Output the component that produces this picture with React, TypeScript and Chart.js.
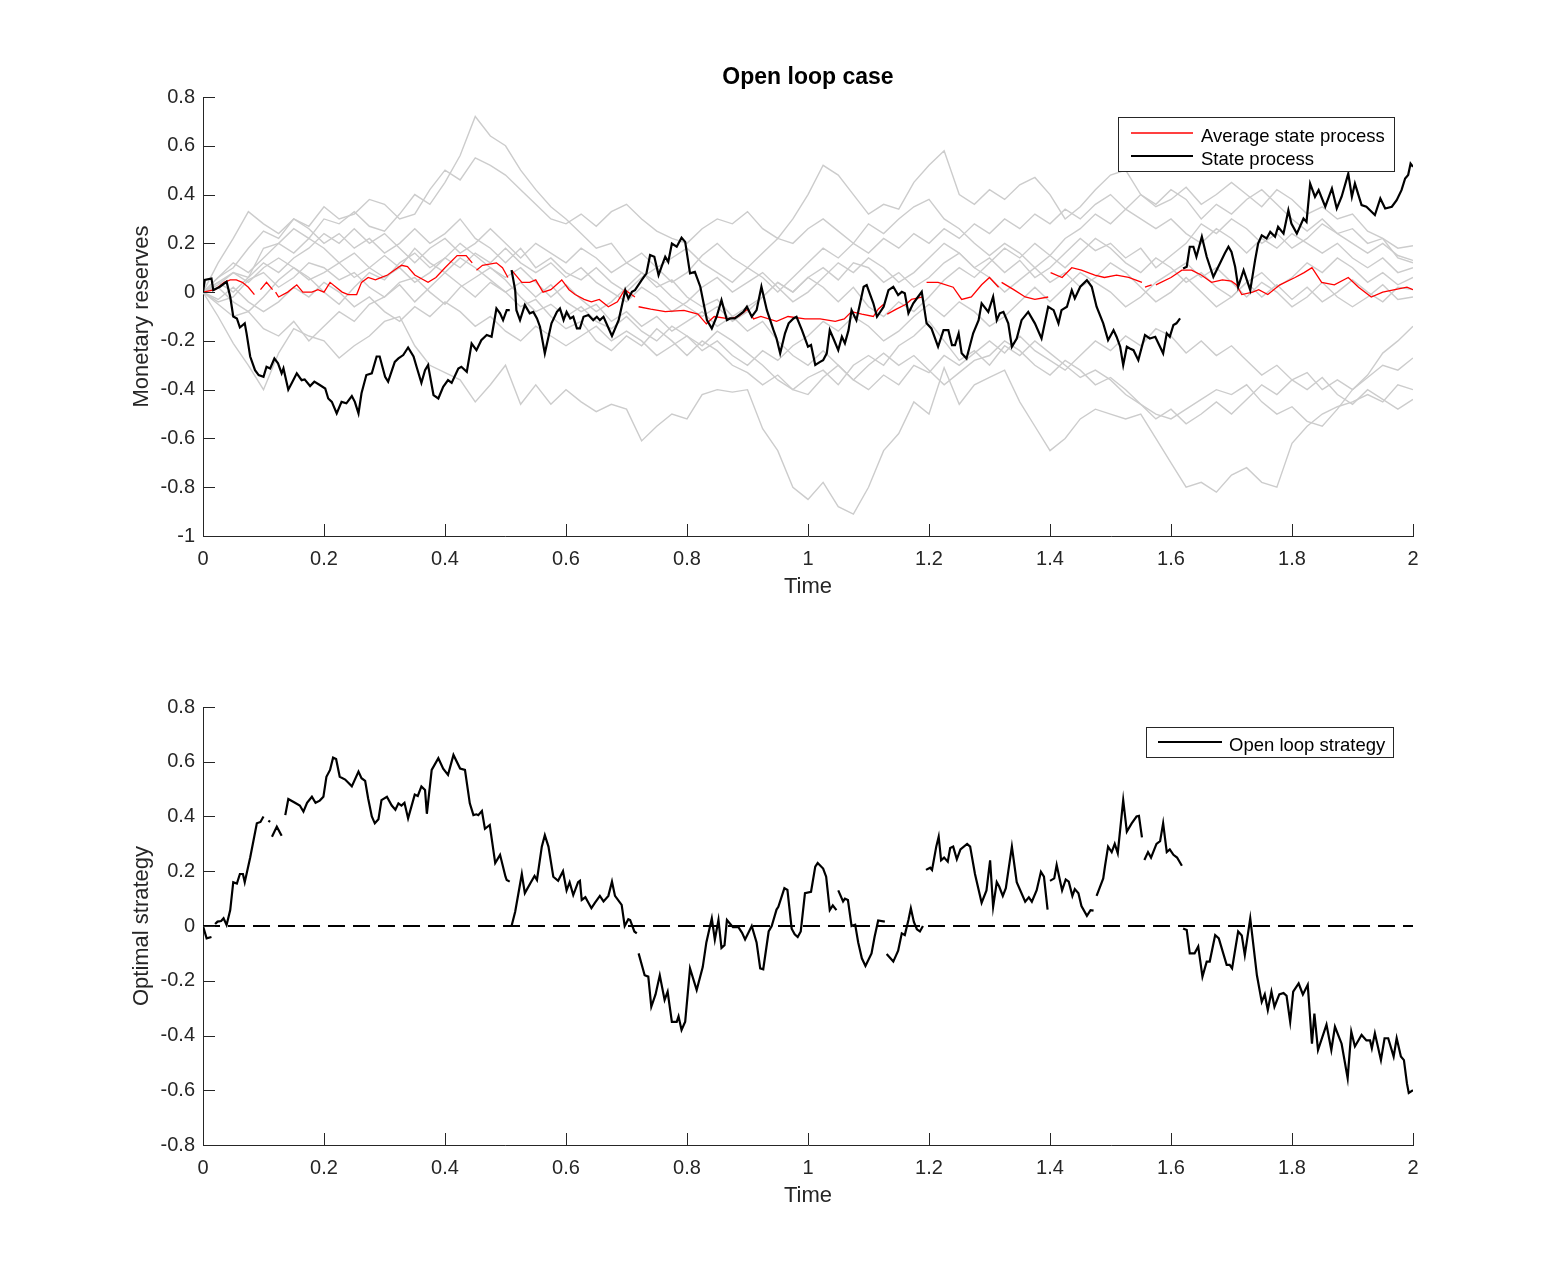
import React, { useEffect, useRef } from "react";
import { Chart, registerables } from "chart.js";

Chart.register(...registerables);

const FONT = '"Liberation Sans", Arial, Helvetica, sans-serif';
const INK = "#262626";

// Axis ticks
const X_TICKS = [0, 0.2, 0.4, 0.6, 0.8, 1, 1.2, 1.4, 1.6, 1.8, 2];
const RESERVE_TICKS = [-1, -0.8, -0.6, -0.4, -0.2, 0, 0.2, 0.4, 0.6, 0.8];
const STRATEGY_TICKS = [-0.8, -0.6, -0.4, -0.2, 0, 0.2, 0.4, 0.6, 0.8];

// Simulated reserve paths share one time grid (step 0.025)
const GRAY_TIMES = Array.from({ length: 81 }, (_, i) => (i * 25) / 1000);

const GRAY_1 = [0, .04, .08, .06, .18, .2, .26, .22, .3, .28, .33, .27, .25, .32, .4, .36, .45, .56, .72, .64, .6, .5, .42, .35, .3, .24, .18, .2, .12, .08, .02, .05, -.02, -.06, -.03, -.1, -.06, -.02, .04, 0, .06, .1, .05, .12, .1, .04, .08, .02, .06, .12, .16, .1, .14, .08, .13, .06, .1, .16, .22, .17, .2, .14, .18, .1, .15, .2, .28, .24, .3, .26, .2, .24, .18, .22, .28, .24, .26, .2, .22, .14, .12];
const GRAY_2 = [0, .06, .1, .18, .25, .22, .3, .27, .35, .3, .32, .38, .36, .3, .32, .42, .5, .46, .55, .52, .48, .42, .36, .3, .28, .32, .27, .33, .36, .3, .25, .22, .2, .26, .3, .28, .33, .26, .22, .3, .4, .52, .48, .4, .32, .36, .34, .45, .52, .58, .4, .36, .42, .38, .44, .47, .4, .3, .35, .42, .48, .5, .4, .35, .38, .43, .36, .4, .45, .4, .35, .42, .38, .32, .35, .3, .32, .25, .22, .18, .19];
const GRAY_3 = [0, -.1, -.21, -.3, -.4, -.25, -.15, -.18, -.2, -.27, -.22, -.18, -.12, -.1, -.22, -.3, -.33, -.36, -.45, -.38, -.3, -.46, -.38, -.46, -.4, -.45, -.49, -.46, -.48, -.61, -.55, -.5, -.52, -.42, -.4, -.41, -.4, -.56, -.65, -.8, -.85, -.78, -.88, -.91, -.8, -.65, -.58, -.45, -.5, -.31, -.46, -.38, -.35, -.32, -.45, -.55, -.65, -.6, -.52, -.48, -.5, -.52, -.5, -.6, -.7, -.8, -.78, -.82, -.75, -.72, -.78, -.8, -.62, -.55, -.5, -.47, -.45, -.42, -.45, -.38, -.4];
const GRAY_4 = [0, -.04, -.02, .05, .08, .02, .06, .12, .1, .05, .08, .02, -.02, .04, .06, 0, -.05, .02, .06, .1, .05, -.02, -.08, -.05, -.1, -.06, -.12, -.15, -.1, -.16, -.2, -.14, -.18, -.22, -.16, -.2, -.25, -.3, -.36, -.4, -.35, -.32, -.38, -.3, -.26, -.3, -.22, -.18, -.12, -.2, -.28, -.24, -.3, -.22, -.26, -.2, -.25, -.3, -.35, -.32, -.36, -.42, -.46, -.5, -.52, -.48, -.44, -.4, -.42, -.38, -.45, -.5, -.47, -.53, -.55, -.48, -.4, -.34, -.25, -.2, -.14];
const GRAY_5 = [0, -.05, -.1, -.08, -.15, -.18, -.12, -.2, -.14, -.08, -.12, -.05, -.02, .03, -.04, .02, .08, .03, -.02, .04, 0, -.06, -.03, -.1, -.15, -.12, -.2, -.24, -.18, -.22, -.15, -.2, -.26, -.2, -.24, -.3, -.33, -.38, -.34, -.4, -.42, -.35, -.3, -.36, -.4, -.34, -.38, -.3, -.33, -.26, -.3, -.25, -.2, -.25, -.18, -.24, -.28, -.32, -.26, -.2, -.24, -.18, -.22, -.15, -.18, -.25, -.2, -.26, -.22, -.28, -.34, -.3, -.36, -.33, -.4, -.36, -.4, -.35, -.3, -.32, -.27];
const GRAY_6 = [0, .03, .08, .04, .1, .14, .1, .05, .08, .12, .06, .1, .15, .1, .18, .12, .08, .14, .1, .05, 0, .04, -.02, .03, -.04, -.08, -.05, -.12, -.08, -.14, -.1, -.16, -.12, -.08, -.14, -.1, -.16, -.12, -.2, -.26, -.3, -.24, -.3, -.36, -.3, -.25, -.3, -.26, -.32, -.38, -.33, -.28, -.26, -.2, -.24, -.3, -.34, -.28, -.32, -.38, -.35, -.4, -.46, -.52, -.48, -.54, -.5, -.45, -.5, -.44, -.38, -.42, -.36, -.4, -.35, -.42, -.46, -.4, -.44, -.48, -.44];
const GRAY_7 = [0, .12, .22, .33, .28, .24, .3, .26, .2, .24, .18, .22, .16, .2, .26, .2, .24, .3, .22, .18, .12, .18, .1, .14, .08, .05, .1, .04, 0, .06, .1, .04, .08, .15, .2, .14, .1, .16, .22, .2, .26, .3, .25, .2, .28, .24, .3, .35, .38, .3, .26, .2, .15, .2, .16, .1, .15, .22, .26, .32, .28, .34, .4, .36, .42, .38, .3, .36, .32, .38, .42, .36, .3, .25, .3, .24, .2, .16, .2, .15, .13];
const GRAY_8 = [0, .02, -.04, -.08, -.02, .05, .1, .06, 0, -.05, .02, .08, .05, .12, .16, .1, .14, .2, .15, .1, .06, .1, .04, -.02, .03, -.03, -.08, -.04, .02, .08, .04, -.02, -.06, -.1, -.06, -.12, -.08, -.02, .04, 0, .06, .02, -.04, .02, -.06, -.1, -.04, -.08, -.02, .05, .1, .06, .12, .18, .14, .2, .15, .1, .16, .22, .18, .12, .08, .14, .1, .04, .08, .02, -.02, .04, .08, .02, .06, .12, .08, .14, .1, .04, .08, .03, .06];
const GRAY_9 = [0, .06, .12, .08, .14, .2, .16, .22, .18, .12, .16, .1, .06, .1, .04, .08, .14, .1, .16, .12, .18, .12, .08, .12, .06, .1, .04, 0, -.04, .02, -.02, -.08, -.04, .02, .06, 0, .04, .08, .02, -.04, 0, .06, .12, .08, .14, .1, .04, .08, .14, .2, .16, .1, .06, 0, .05, .1, .04, .08, .02, .06, .12, .08, .02, -.04, 0, .06, 0, -.06, -.02, .04, -.02, .03, -.03, .02, -.04, 0, .05, 0, -.04, .02, .01];
const GRAY_10 = [0, -.03, .02, -.04, -.08, -.04, .02, -.02, .04, 0, -.06, -.02, -.08, -.12, -.06, -.1, -.04, -.08, -.14, -.1, -.16, -.2, -.14, -.18, -.22, -.18, -.14, -.2, -.16, -.2, -.26, -.22, -.18, -.24, -.2, -.26, -.3, -.24, -.28, -.22, -.18, -.12, -.16, -.1, -.14, -.2, -.16, -.1, -.05, -.1, -.04, -.08, -.14, -.1, -.04, .02, -.04, .02, .08, .04, 0, -.06, -.02, .04, .08, .12, .06, .1, .04, -.02, .04, 0, -.06, -.02, .04, -.02, -.06, -.02, .03, -.03, -.02];
const GRAY_11 = [0, .04, 0, .06, .12, .08, .14, .18, .24, .2, .26, .2, .24, .18, .12, .18, .22, .16, .2, .26, .2, .14, .2, .16, .12, .18, .14, .08, .12, .16, .1, .14, .18, .12, .08, .04, .1, .06, 0, .06, .12, .18, .14, .2, .16, .22, .18, .24, .2, .26, .22, .28, .24, .3, .26, .32, .28, .34, .3, .36, .4, .34, .3, .26, .3, .24, .2, .26, .22, .16, .22, .18, .24, .2, .16, .2, .14, .1, .14, .08, .1];

const GRAY_PATHS = [GRAY_1, GRAY_2, GRAY_3, GRAY_4, GRAY_5, GRAY_6, GRAY_7, GRAY_8, GRAY_9, GRAY_10, GRAY_11];

// Average state process: [time, value]; null marks a break in the curve
const AVERAGE_STATE: [number, number | null][] = [
  [0, 0], [.02, .01], [.035, .04], [.045, .05], [.055, .05], [.065, .04], [.075, .02], [.085, -.01], [.09, null],
  [.095, .01], [.105, .04], [.115, .01], [.118, null], [.12, 0], [.125, -.02], [.14, 0], [.155, .03], [.165, 0],
  [.18, 0], [.19, .01], [.2, 0], [.21, .04], [.22, .02], [.23, 0], [.24, -.01], [.254, -.01], [.262, .04],
  [.273, .06], [.285, .05], [.295, .06], [.305, .07], [.316, .09], [.328, .11], [.338, .105], [.35, .07],
  [.372, .04], [.385, .06], [.4, .1], [.42, .15], [.435, .15], [.445, .12], [.448, null], [.452, .09],
  [.462, .11], [.485, .12], [.495, .1], [.504, .06], [.506, null], [.51, .09], [.527, .04], [.54, .04],
  [.55, .05], [.562, 0], [.575, .01], [.593, .05], [.605, .01], [.615, -.01], [.63, -.03], [.642, -.04],
  [.655, -.03], [.67, -.06], [.685, -.04], [.697, .01], [.714, -.02], [.717, null], [.72, -.06], [.74, -.07],
  [.764, -.08], [.795, -.075], [.818, -.09], [.832, -.13], [.845, -.1], [.87, -.11], [.885, -.1], [.9, -.07],
  [.91, -.11], [.922, -.1], [.948, -.12], [.967, -.1], [.995, -.11], [1.02, -.11], [1.045, -.12], [1.06, -.11],
  [1.072, -.08], [1.089, -.09], [1.108, -.1], [1.116, -.07], [1.125, -.05], [1.128, null], [1.131, -.09],
  [1.146, -.07], [1.162, -.05], [1.171, -.03], [1.19, -.02], [1.193, null], [1.196, .04], [1.215, .04],
  [1.24, .02], [1.254, -.03], [1.27, -.02], [1.287, .03], [1.3, .06], [1.315, .02], [1.318, null], [1.32, .04],
  [1.34, .01], [1.359, -.02], [1.375, -.03], [1.397, -.02], [1.399, null], [1.401, .08], [1.42, .06],
  [1.436, .1], [1.452, .09], [1.474, .07], [1.49, .06], [1.51, .07], [1.53, .06], [1.552, .04], [1.555, null],
  [1.557, .02], [1.568, .03], [1.572, null], [1.575, .03], [1.6, .06], [1.618, .09], [1.634, .09], [1.65, .07],
  [1.667, .04], [1.685, .05], [1.7, .045], [1.708, .03], [1.717, -.01], [1.735, 0], [1.745, .01], [1.76, -.01],
  [1.78, .03], [1.805, .06], [1.82, .08], [1.833, .1], [1.849, .04], [1.87, .03], [1.893, .06], [1.91, .02],
  [1.931, -.02], [1.95, 0], [1.97, .01], [1.99, .02], [2, .01],
];

// State process of the controlled player: [time, value]
const STATE_PROCESS: [number, number | null][] = [
  [0, 0], [.003, .05], [.014, .056], [.017, .008], [.028, .022], [.039, .043], [.045, -.019], [.05, -.1],
  [.056, -.108], [.061, -.145], [.069, -.128], [.072, -.169], [.078, -.264], [.086, -.32], [.092, -.34],
  [.1, -.347], [.105, -.306], [.111, -.313], [.118, -.272], [.124, -.292], [.13, -.333], [.133, -.313],
  [.141, -.4], [.147, -.372], [.155, -.333], [.163, -.361], [.168, -.358], [.177, -.385], [.184, -.367],
  [.193, -.381], [.202, -.395], [.207, -.436], [.213, -.45], [.221, -.497], [.229, -.45], [.237, -.456],
  [.246, -.426], [.251, -.45], [.257, -.497], [.262, -.415], [.27, -.34], [.279, -.333], [.287, -.264],
  [.292, -.264], [.301, -.347], [.306, -.367], [.317, -.286], [.323, -.272], [.331, -.258], [.339, -.227],
  [.348, -.264], [.353, -.306], [.361, -.372], [.367, -.32], [.372, -.299], [.381, -.422], [.389, -.436],
  [.397, -.388], [.405, -.361], [.411, -.372], [.422, -.313], [.427, -.306], [.436, -.327], [.444, -.211],
  [.452, -.238], [.46, -.197], [.469, -.176], [.477, -.183], [.485, -.067], [.491, -.087], [.496, -.115],
  [.502, -.074], [.507, -.074], [.509, null], [.51, .09], [.516, .008], [.518, -.074], [.524, -.115],
  [.532, -.053], [.54, -.087], [.546, -.081], [.552, -.108], [.557, -.142], [.565, -.251], [.576, -.128],
  [.585, -.081], [.59, -.067], [.596, -.115], [.601, -.081], [.607, -.108], [.612, -.101], [.618, -.149],
  [.623, -.149], [.629, -.101], [.637, -.094], [.645, -.115], [.651, -.101], [.656, -.115], [.662, -.101],
  [.676, -.18], [.687, -.115], [.692, -.06], [.698, .008], [.703, -.026], [.709, .001], [.714, .008],
  [.725, .049], [.733, .077], [.739, .152], [.746, .145], [.753, .07], [.758, .104], [.764, .145],
  [.769, .124], [.775, .199], [.783, .186], [.791, .223], [.797, .206], [.805, .077], [.813, .083],
  [.822, .022], [.833, -.115], [.841, -.149], [.849, -.101], [.857, -.033], [.866, -.115], [.871, -.108],
  [.879, -.108], [.893, -.081], [.899, -.06], [.907, -.101], [.915, -.074], [.923, .022], [.932, -.074],
  [.943, -.156], [.948, -.19], [.954, -.251], [.962, -.169], [.968, -.128], [.976, -.108], [.981, -.101],
  [.99, -.156], [1, -.224], [1.005, -.217], [1.012, -.299], [1.02, -.286], [1.025, -.279], [1.031, -.251],
  [1.036, -.156], [1.042, -.19], [1.05, -.238], [1.056, -.183], [1.061, -.21], [1.067, -.156], [1.072, -.074],
  [1.08, -.115], [1.092, .022], [1.097, .029], [1.108, -.046], [1.114, -.101], [1.125, -.06], [1.133, .008],
  [1.141, .022], [1.149, -.012], [1.155, .001], [1.16, -.005], [1.166, -.087], [1.174, -.046], [1.182, -.019],
  [1.188, .001], [1.196, -.128], [1.204, -.149], [1.215, -.224], [1.224, -.156], [1.232, -.156], [1.238, -.217],
  [1.243, -.217], [1.249, -.169], [1.254, -.251], [1.262, -.272], [1.273, -.169], [1.282, -.115], [1.287, -.046],
  [1.298, -.081], [1.306, -.019], [1.312, -.115], [1.317, -.087], [1.323, -.081], [1.331, -.128], [1.337, -.224],
  [1.345, -.19], [1.353, -.115], [1.364, -.081], [1.375, -.128], [1.386, -.19], [1.397, -.06], [1.406, -.074],
  [1.414, -.128], [1.419, -.074], [1.428, -.06], [1.436, .008], [1.441, -.026], [1.45, .022], [1.461, .049],
  [1.469, .022], [1.477, -.06], [1.488, -.128], [1.496, -.197], [1.505, -.156], [1.51, -.183], [1.516, -.224],
  [1.521, -.299], [1.527, -.224], [1.532, -.231], [1.538, -.238], [1.546, -.279], [1.557, -.176], [1.565, -.19],
  [1.574, -.183], [1.587, -.251], [1.593, -.169], [1.598, -.183], [1.604, -.135], [1.609, -.128], [1.615, -.108],
  [1.617, null], [1.62, .097], [1.626, .104], [1.631, .186], [1.637, .186], [1.642, .145], [1.651, .227],
  [1.659, .145], [1.67, .063], [1.681, .118], [1.689, .159], [1.695, .186], [1.7, .165], [1.706, .104],
  [1.711, .022], [1.72, .09], [1.731, .008], [1.739, .131], [1.744, .199], [1.75, .233], [1.758, .22],
  [1.764, .247], [1.772, .227], [1.777, .268], [1.786, .24], [1.794, .336], [1.799, .281], [1.808, .24],
  [1.819, .302], [1.824, .288], [1.83, .445], [1.838, .391], [1.844, .418], [1.855, .35], [1.866, .425],
  [1.874, .343], [1.882, .391], [1.893, .486], [1.899, .391], [1.904, .445], [1.915, .357], [1.923, .35],
  [1.929, .336], [1.937, .316], [1.946, .384], [1.954, .343], [1.965, .35], [1.973, .377], [1.981, .418],
  [1.987, .466], [1.992, .48], [1.996, .527], [2, .514],
];

// Open loop strategy: [time, value]; null marks a break in the curve
const OPEN_LOOP_STRATEGY: [number, number | null][] = [
  [0, 0], [.006, -.045], [.014, -.04], [.017, null], [.02, .007], [.024, .016], [.03, .018], [.034, .028],
  [.039, .004], [.045, .058], [.05, .16], [.056, .155], [.061, .19], [.066, .19], [.069, .16], [.078, .25],
  [.089, .375], [.095, .38], [.1, .4], [.105, null], [.108, .385], [.111, .38], [.1125, null], [.114, .326],
  [.122, .363], [.13, .33], [.133, null], [.136, .405], [.141, .464], [.152, .45], [.16, .44], [.166, .418],
  [.172, .45], [.18, .472], [.186, .45], [.193, .458], [.199, .472], [.204, .545], [.21, .57], [.215, .615],
  [.22, .61], [.226, .545], [.235, .535], [.246, .51], [.257, .564], [.262, .54], [.268, .53], [.273, .466],
  [.279, .4], [.284, .375], [.29, .39], [.295, .46], [.304, .472], [.312, .44], [.318, .425], [.323, .448],
  [.328, .44], [.333, .45], [.339, .393], [.35, .48], [.355, .475], [.361, .51], [.367, .497], [.37, .41],
  [.378, .57], [.389, .613], [.397, .575], [.405, .552], [.414, .625], [.425, .575], [.433, .57], [.441, .448],
  [.447, .405], [.452, .408], [.455, .405], [.461, .42], [.466, .355], [.474, .369], [.483, .23], [.491, .26],
  [.5, .18], [.502, .168], [.507, .162], [.509, null], [.51, 0], [.516, .052], [.527, .19], [.532, .12],
  [.542, .16], [.548, .183], [.552, .168], [.56, .29], [.565, .332], [.571, .29], [.579, .18], [.587, .165],
  [.595, .2], [.601, .13], [.606, .16], [.612, .113], [.62, .16], [.623, .165], [.626, .095], [.632, .105],
  [.642, .065], [.648, .085], [.656, .11], [.662, .09], [.67, .11], [.676, .162], [.681, .11], [.692, .077],
  [.697, 0], [.703, .025], [.706, .022], [.713, -.02], [.717, -.027], [.7185, null], [.72, -.1], [.73, -.18],
  [.736, -.185], [.741, -.295], [.748, -.25], [.755, -.18], [.763, -.27], [.768, -.24], [.775, -.35],
  [.783, -.35], [.786, -.33], [.791, -.38], [.797, -.35], [.805, -.155], [.816, -.234], [.826, -.15],
  [.832, -.06], [.841, .028], [.846, -.05], [.852, .022], [.857, -.08], [.862, -.07], [.866, .022],
  [.876, -.004], [.885, -.004], [.891, -.025], [.896, -.049], [.907, 0], [.915, -.06], [.921, -.155],
  [.926, -.158], [.935, -.02], [.94, 0], [.948, .06], [.951, .07], [.961, .138], [.966, .132], [.973, -.01],
  [.978, -.03], [.983, -.04], [.988, -.02], [.995, .12], [1.005, .125], [1.012, .217], [1.016, .23],
  [1.025, .21], [1.03, .18], [1.036, .058], [1.041, .075], [1.047, .058], [1.0485, null], [1.05, .13],
  [1.058, .09], [1.061, .1], [1.066, .095], [1.072, 0], [1.078, .005], [1.083, -.06], [1.089, -.118],
  [1.095, -.146], [1.105, -.1], [1.11, -.04], [1.116, .02], [1.127, .016], [1.1285, null], [1.13, -.102],
  [1.141, -.13], [1.149, -.09], [1.155, -.027], [1.16, -.033], [1.166, .022], [1.17, .065], [1.175, .015],
  [1.18, -.012], [1.185, -.02], [1.19, 0], [1.1925, null], [1.195, .205], [1.202, .213], [1.205, .205],
  [1.212, .29], [1.216, .326], [1.22, .24], [1.225, .25], [1.231, .235], [1.235, .285], [1.24, .29],
  [1.246, .244], [1.252, .28], [1.263, .3], [1.268, .29], [1.276, .19], [1.287, .085], [1.295, .13],
  [1.301, .24], [1.306, .07], [1.312, .16], [1.316, .144], [1.322, .11], [1.327, .138], [1.337, .29],
  [1.345, .16], [1.359, .089], [1.365, .105], [1.37, .089], [1.378, .131], [1.385, .198], [1.39, .18],
  [1.396, .06], [1.3985, null], [1.4, .165], [1.407, .174], [1.411, .223], [1.42, .13], [1.426, .17],
  [1.431, .162], [1.437, .11], [1.441, .135], [1.447, .12], [1.452, .073], [1.461, .037], [1.467, .058],
  [1.472, .056], [1.4745, null], [1.477, .11], [1.483, .145], [1.488, .174], [1.491, .22], [1.496, .29],
  [1.502, .27], [1.507, .3], [1.512, .266], [1.521, .46], [1.527, .345], [1.535, .375], [1.543, .4],
  [1.547, .402], [1.552, .324], [1.554, null], [1.556, .241], [1.562, .27], [1.567, .25], [1.576, .3],
  [1.582, .31], [1.587, .375], [1.593, .27], [1.598, .28], [1.604, .26], [1.61, .25], [1.618, .22],
  [1.619, null], [1.62, -.009], [1.626, -.015], [1.631, -.1], [1.639, -.1], [1.645, -.075], [1.652, -.185],
  [1.659, -.13], [1.664, -.13], [1.673, -.033], [1.679, -.045], [1.692, -.142], [1.697, -.142], [1.701, -.155],
  [1.711, -.02], [1.717, -.035], [1.722, -.106], [1.731, .028], [1.742, -.18], [1.75, -.277], [1.755, -.25],
  [1.76, -.307], [1.766, -.24], [1.771, -.295], [1.779, -.25], [1.786, -.245], [1.791, -.255], [1.797, -.35],
  [1.802, -.24], [1.811, -.21], [1.818, -.25], [1.826, -.215], [1.833, -.43], [1.837, -.32], [1.843, -.453],
  [1.857, -.36], [1.865, -.453], [1.871, -.368], [1.882, -.43], [1.892, -.556], [1.898, -.386], [1.904, -.44],
  [1.915, -.398], [1.923, -.418], [1.929, -.418], [1.932, -.447], [1.937, -.392], [1.947, -.49], [1.953, -.41],
  [1.959, -.41], [1.968, -.477], [1.973, -.41], [1.98, -.477], [1.985, -.49], [1.99, -.575], [1.993, -.61],
  [2, -.6],
];

const ZERO_LINE: [number, number][] = [[0, 0], [2, 0]];

const pairsToPoints = (pairs: [number, number | null][]) => pairs.map(([x, y]) => ({ x, y }));
const gridToPoints = (values: number[]) => values.map((y, i) => ({ x: GRAY_TIMES[i], y }));

type LegendItem = { label: string; color: string; width: number };
type DecorConfig = {
  title?: string;
  titleY?: number;
  xLabel: string;
  xLabelY: number;
  yLabel: string;
  box: [number, number, number, number];
  lineX: [number, number];
  textX: number;
  rows: number[];
  items: LegendItem[];
};

// Inward tick marks, axis titles and a boxed legend
function axesDecor(cfg: DecorConfig) {
  return {
    id: "axesDecor",
    afterDraw(chart: any) {
      const ctx = chart.ctx as CanvasRenderingContext2D;
      const { left, right, top, bottom } = chart.chartArea;
      const xs = chart.scales.x;
      const ys = chart.scales.y;
      ctx.save();

      ctx.strokeStyle = INK;
      ctx.lineWidth = 1;
      ctx.setLineDash([]);
      ctx.beginPath();
      for (const t of xs.ticks) {
        const px = Math.round(xs.getPixelForValue(t.value)) + 0.5;
        ctx.moveTo(px, bottom);
        ctx.lineTo(px, bottom - 12);
      }
      for (const t of ys.ticks) {
        const py = Math.round(ys.getPixelForValue(t.value)) + 0.5;
        ctx.moveTo(left, py);
        ctx.lineTo(left + 12, py);
      }
      ctx.stroke();

      const cx = (left + right) / 2;
      if (cfg.title) {
        ctx.font = `bold 23px ${FONT}`;
        ctx.fillStyle = "#000";
        ctx.textAlign = "center";
        ctx.textBaseline = "alphabetic";
        ctx.fillText(cfg.title, cx, cfg.titleY ?? 0);
      }

      ctx.font = `22px ${FONT}`;
      ctx.fillStyle = INK;
      ctx.textAlign = "center";
      ctx.textBaseline = "alphabetic";
      ctx.fillText(cfg.xLabel, cx, cfg.xLabelY);

      ctx.save();
      ctx.translate(148, (top + bottom) / 2);
      ctx.rotate(-Math.PI / 2);
      ctx.fillText(cfg.yLabel, 0, 0);
      ctx.restore();

      const [bx, by, bw, bh] = cfg.box;
      ctx.fillStyle = "#fff";
      ctx.fillRect(bx, by, bw, bh);
      ctx.strokeStyle = INK;
      ctx.lineWidth = 1;
      ctx.strokeRect(bx + 0.5, by + 0.5, bw, bh);

      ctx.font = `18.5px ${FONT}`;
      ctx.textAlign = "left";
      ctx.textBaseline = "alphabetic";
      cfg.items.forEach((item, i) => {
        const y = cfg.rows[i];
        ctx.strokeStyle = item.color;
        ctx.lineWidth = item.width;
        ctx.beginPath();
        ctx.moveTo(cfg.lineX[0], y);
        ctx.lineTo(cfg.lineX[1], y);
        ctx.stroke();
        ctx.fillStyle = "#000";
        ctx.fillText(item.label, cfg.textX, y + 8.5);
      });

      ctx.restore();
    },
  };
}

function scaleOptions(yTicks: number[], padTop: number, xHeight: number) {
  const tickFont = { family: FONT, size: 20 };
  return {
    responsive: false,
    animation: false as const,
    devicePixelRatio: 1,
    events: [] as any[],
    layout: { padding: { left: 0, right: 150, top: padTop, bottom: 0 } },
    plugins: { legend: { display: false }, tooltip: { enabled: false }, title: { display: false } },
    elements: { point: { radius: 0 }, line: { tension: 0 } },
    scales: {
      x: {
        type: "linear" as const,
        min: 0,
        max: 2,
        grid: { display: false, drawTicks: false },
        border: { display: true, color: INK, width: 1 },
        ticks: {
          autoSkip: false,
          maxRotation: 0,
          padding: 11,
          color: INK,
          font: tickFont,
          callback: (v: any) => String(v),
        },
        afterBuildTicks: (s: any) => {
          s.ticks = X_TICKS.map((value) => ({ value }));
        },
        afterFit: (s: any) => {
          s.height = xHeight;
        },
      },
      y: {
        type: "linear" as const,
        min: yTicks[0],
        max: yTicks[yTicks.length - 1],
        grid: { display: false, drawTicks: false },
        border: { display: true, color: INK, width: 1 },
        ticks: {
          autoSkip: false,
          padding: 8,
          color: INK,
          font: tickFont,
          callback: (v: any) => String(v),
        },
        afterBuildTicks: (s: any) => {
          s.ticks = yTicks.map((value) => ({ value }));
        },
        afterFit: (s: any) => {
          s.width = 203;
        },
      },
    },
  };
}

export default function App() {
  const topRef = useRef<HTMLCanvasElement>(null);
  const bottomRef = useRef<HTMLCanvasElement>(null);

  useEffect(() => {
    const lineBase = { pointRadius: 0, tension: 0, spanGaps: false, fill: false };

    const reserves = new Chart(topRef.current as HTMLCanvasElement, {
      type: "line",
      data: {
        datasets: [
          { ...lineBase, label: "State process", data: pairsToPoints(STATE_PROCESS), borderColor: "#000", borderWidth: 2.2 },
          { ...lineBase, label: "Average state process", data: pairsToPoints(AVERAGE_STATE), borderColor: "#ff0000", borderWidth: 1.3 },
          ...GRAY_PATHS.map((path, i) => ({
            ...lineBase,
            label: `path ${i + 1}`,
            data: gridToPoints(path),
            borderColor: "#cccccc",
            borderWidth: 1.4,
          })),
        ],
      },
      options: scaleOptions(RESERVE_TICKS, 97, 104) as any,
      plugins: [
        axesDecor({
          title: "Open loop case",
          titleY: 84,
          xLabel: "Time",
          xLabelY: 593,
          yLabel: "Monetary reserves",
          box: [1118, 117, 276, 54],
          lineX: [1131, 1193],
          textX: 1201,
          rows: [133, 156],
          items: [
            { label: "Average state process", color: "#ff0000", width: 1.3 },
            { label: "State process", color: "#000", width: 2.2 },
          ],
        }),
      ],
    });

    const strategy = new Chart(bottomRef.current as HTMLCanvasElement, {
      type: "line",
      data: {
        datasets: [
          { ...lineBase, label: "Open loop strategy", data: pairsToPoints(OPEN_LOOP_STRATEGY), borderColor: "#000", borderWidth: 2.2 },
          {
            ...lineBase,
            label: "zero",
            data: ZERO_LINE.map(([x, y]) => ({ x, y })),
            borderColor: "#000",
            borderWidth: 1.8,
            borderDash: [17, 8],
          },
        ],
      },
      options: scaleOptions(STRATEGY_TICKS, 67, 143) as any,
      plugins: [
        axesDecor({
          xLabel: "Time",
          xLabelY: 562,
          yLabel: "Optimal strategy",
          box: [1146, 87, 247, 30],
          lineX: [1158, 1222],
          textX: 1229,
          rows: [102],
          items: [{ label: "Open loop strategy", color: "#000", width: 2.2 }],
        }),
      ],
    });

    return () => {
      reserves.destroy();
      strategy.destroy();
    };
  }, []);

  return (
    <div style={{ position: "absolute", left: 0, top: 0, width: 1563, height: 1288, background: "#fff" }}>
      <canvas
        ref={topRef}
        width={1563}
        height={640}
        style={{ position: "absolute", left: 0, top: 0, width: 1563, height: 640 }}
      />
      <canvas
        ref={bottomRef}
        width={1563}
        height={648}
        style={{ position: "absolute", left: 0, top: 640, width: 1563, height: 648 }}
      />
    </div>
  );
}
